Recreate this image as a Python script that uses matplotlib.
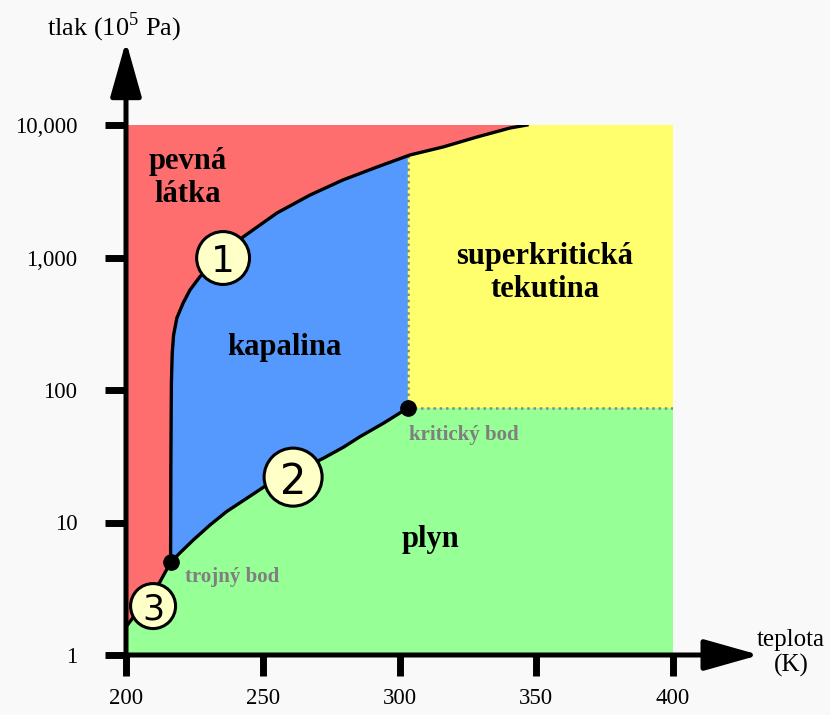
import matplotlib
matplotlib.use("Agg")
import matplotlib.pyplot as plt
from matplotlib.ticker import FixedLocator, NullLocator

plt.rcParams["font.family"] = ["Liberation Serif", "DejaVu Serif"]
plt.rcParams["mathtext.fontset"] = "custom"
plt.rcParams["mathtext.rm"] = "Liberation Serif"

# teplota v K, tlak v 10^5 Pa
triple = (216.3, 5.0)
critical = (303.0, 73.0)

subl_t = [200.0, 212.4, 216.3]
subl_p = [1.63, 3.56, 5.0]

melt_t = [216.3, 216.4, 216.5, 216.6, 216.9, 217.4, 218.6, 220.9, 223.4, 227.1,
          235.5, 242.8, 255.2, 267.3, 279.3, 291.8, 303.8, 315.9, 328.3, 340.4,
          346.6]
melt_p = [5.0, 25, 59, 113, 190, 260, 350, 454, 569, 720,
          991, 1428, 2168, 2962, 3847, 4819, 5938, 6823, 8115, 9490,
          10000]

vap_t = [216.3, 219.7, 224.6, 230.7, 236.8, 244.1, 250.5, 261.1, 272.1, 279.5,
         285.6, 294.1, 303.0]
vap_p = [5.0, 5.89, 7.38, 9.57, 12.1, 15.2, 18.6, 23.6, 30.5, 37.0,
         44.5, 56.1, 73.0]

melt_at_tc = 5900

circ_t = [235.5, 261.1, 209.9]
circ_p = [991, 22.0, 2.34]
circ_txt = ["1", "2", "3"]
circ_size = [1450, 1745, 1050]
circ_font = [27, 30, 25]

xticks = [200, 250, 300, 350, 400]
yticks = [1, 10, 100, 1000, 10000]
ytick_labels = ["1", "10", "100", "1,000", "10,000"]

red = "#ff6e6e"
blue = "#5599ff"
yellow = "#ffff6e"
green = "#96ff96"

fig = plt.figure(figsize=(8.3, 7.15), dpi=100, facecolor="#f9f9f9")
ax = fig.add_axes([126 / 830, 60 / 715, 547 / 830, 530 / 715])
ax.set_facecolor("none")
ax.set_yscale("log")
ax.set_xlim(200, 400)
ax.set_ylim(1, 10000)

# oblasti
ax.fill([200, 400, 400, 200], [1, 1, 10000, 10000], color=green, lw=0, zorder=1)
ax.fill([critical[0], 400, 400, critical[0]],
        [critical[1], critical[1], 10000, 10000], color=yellow, lw=0, zorder=1)
ax.fill(vap_t + [critical[0], 200, 200], vap_p + [10000, 10000, triple[1]],
        color=blue, lw=0, zorder=2)
ax.fill(subl_t + melt_t[1:] + [200], subl_p + melt_p[1:] + [10000],
        color=red, lw=0, zorder=3)

# hranice
ax.plot([critical[0], critical[0]], [critical[1], melt_at_tc], color="#888888",
        ls=(0, (1, 1.5)), lw=1.8, zorder=4)
ax.plot([critical[0], 400], [critical[1], critical[1]], color="#888888",
        ls=(0, (1, 1.5)), lw=1.8, zorder=4)
for t, p in [(subl_t, subl_p), (melt_t, melt_p), (vap_t, vap_p)]:
    ax.plot(t, p, color="black", lw=2.4, solid_joinstyle="round", zorder=5)

ax.plot([triple[0], critical[0]], [triple[1], critical[1]], "o", color="black",
        ms=11, ls="none", zorder=6)

ax.scatter(circ_t, circ_p, s=circ_size, facecolor="#ffffc8", edgecolor="black",
           lw=2.2, zorder=7, clip_on=False)
for t, p, s, fs in zip(circ_t, circ_p, circ_txt, circ_font):
    ax.text(t, p, s, ha="center", va="center_baseline", fontsize=fs,
            family="DejaVu Sans", zorder=8)

# popisky oblastí
bold = dict(fontsize=22, fontweight="bold", ha="center", va="center",
            linespacing=1.15, zorder=9)
ax.text(222.7, 3980, "pevná\nlátka", **bold)
ax.text(257.8, 211, "kapalina", **bold)
ax.text(353.2, 764, "superkritická\ntekutina", **bold)
ax.text(311.2, 7.38, "plyn", **bold)
ax.text(303.6, 45.8, "kritický bod", fontsize=15, fontweight="bold",
        color="#7f7f7f", ha="left", va="center", zorder=9)
ax.text(221.6, 3.88, "trojný bod", fontsize=15, fontweight="bold",
        color="#7f7f7f", ha="left", va="center", zorder=9)

# osy
for s in ax.spines.values():
    s.set_visible(False)
ax.xaxis.set_major_locator(FixedLocator(xticks))
ax.yaxis.set_major_locator(FixedLocator(yticks))
ax.yaxis.set_minor_locator(NullLocator())
ax.set_yticklabels(ytick_labels)
ax.tick_params(axis="both", direction="out", length=15, width=5, color="black",
               labelsize=16.5)
ax.tick_params(axis="y", pad=20)
ax.tick_params(axis="x", pad=9)

arrow = dict(arrowstyle="-|>,head_length=1.7,head_width=0.48", lw=3.6,
             color="black", mutation_scale=20, shrinkA=0, shrinkB=0)
ax.annotate("", xy=(1.158, 0), xytext=(-0.004, 0), xycoords="axes fraction",
            arrowprops=arrow, annotation_clip=False, zorder=10)
ax.annotate("", xy=(0, 1.158), xytext=(0, -0.004), xycoords="axes fraction",
            arrowprops=arrow, annotation_clip=False, zorder=10)

fig.text(114 / 830, 1 - 27 / 715, r"tlak (10$^{\mathrm{5}}$ Pa)", fontsize=19,
         ha="center", va="center")
fig.text(791 / 830, 1 - 653 / 715, "teplota\n(K)", fontsize=18, ha="center",
         va="center", linespacing=1.2)

fig.savefig("out.png", dpi=100, facecolor=fig.get_facecolor())
